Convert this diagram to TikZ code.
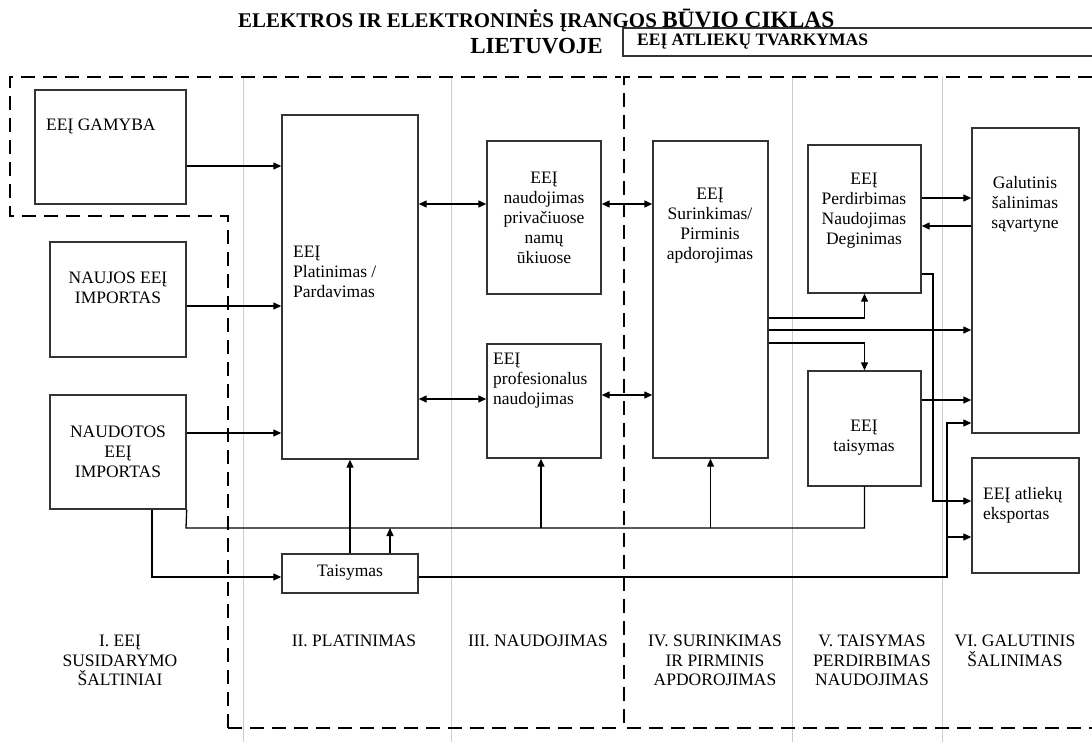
\documentclass[tikz,border=0pt]{standalone}
\usepackage{fontspec}
\setmainfont{Liberation Serif}
\usetikzlibrary{arrows.meta,fit}
\tikzset{
 box/.style={draw=black!80, line width=1.4pt, fill=white, inner sep=0pt},
 conn/.style={line width=1.3pt, draw=black},
 arr/.style={conn, -{Triangle[length=8pt,width=7pt]}},
 darr/.style={conn, {Triangle[length=8pt,width=7pt]}-{Triangle[length=8pt,width=7pt]}},
 txt/.style={inner sep=0pt, font=\fontsize{17.5}{20}\selectfont, align=center},
 ltxt/.style={txt, align=left},
 region/.style={line width=2.2pt, dash pattern=on 14pt off 8pt},
 sepline/.style={draw=gray!40, line width=0.6pt},
 phase/.style={fill=white, inner xsep=6pt, inner ysep=5pt, align=center, font=\fontsize{17.5}{19.5}\selectfont},
}
\newcommand{\mkbox}[5]{\coordinate (#1-a) at (#2,#3); \coordinate (#1-b) at (#4,#5); \node[box, fit=(#1-a)(#1-b)] (#1) {};}
\begin{document}
\begin{tikzpicture}[x=1pt,y=-1pt]
\useasboundingbox (0,0) rectangle (1092,742);
% separator lines
\foreach \xx in {243,451,792,942} {\draw[sepline] (\xx,77) -- (\xx,742);}
% dashed regions
\draw[region] (228,728) -- (228,216) -- (10,216) -- (10,77) -- (621,77);
\draw[region] (1092,77) -- (624,77) -- (624,728) -- (1092,728);
\draw[region] (228,728) -- (621,728);
% title
\node[anchor=base west, inner sep=0pt] (title) at (238,27) {\bfseries\fontsize{20.9}{24}\selectfont ELEKTROS IR ELEKTRONINĖS ĮRANGOS {\fontsize{23.4}{26}\selectfont BŪVIO CIKLAS}};
\node[anchor=base east, inner sep=0pt] (title2) at (603,53) {\bfseries\fontsize{23}{26}\selectfont LIETUVOJE};
\coordinate (hd-a) at (623,28); \coordinate (hd-b) at (1110,56);
\node[box, fit=(hd-a)(hd-b)] (hdr) {};
\node[anchor=base west, inner sep=0pt] (hdrtxt) at (637,45) {\bfseries\fontsize{17.5}{19}\selectfont EEĮ ATLIEKŲ TVARKYMAS};
% boxes
\mkbox{gam}{35}{90}{186}{204}
\mkbox{nau}{50}{242}{186}{357}
\mkbox{nad}{50}{395}{186}{509}
\mkbox{pla}{282}{115}{418}{459}
\mkbox{pri}{487}{141}{601}{294}
\mkbox{pro}{487}{344}{601}{458}
\mkbox{sur}{653}{141}{768}{458}
\mkbox{per}{808}{145}{921}{293}
\mkbox{gal}{972}{128}{1079}{433}
\mkbox{tai}{808}{371}{921}{486}
\mkbox{eks}{972}{458}{1079}{573}
\mkbox{tsm}{282}{554}{418}{593}
% box texts
\node[ltxt, anchor=west] (gamt) at (46,126) {EEĮ GAMYBA};
\node[txt] (naut) at (118,288) {NAUJOS EEĮ\\IMPORTAS};
\node[txt] (nadt) at (118,452) {NAUDOTOS\\EEĮ\\IMPORTAS};
\node[ltxt, anchor=west] (plat) at (293,272) {EEĮ\\Platinimas /\\Pardavimas};
\node[txt] (prit) at (544,218) {EEĮ\\naudojimas\\privačiuose\\namų\\ūkiuose};
\node[ltxt, anchor=west] (prot) at (493,381) {EEĮ\\profesionalus\\naudojimas};
\node[txt] (surt) at (710,226) {EEĮ\\Surinkimas/\\Pirminis\\apdorojimas};
\node[txt] (pert) at (864,211) {EEĮ\\Perdirbimas\\Naudojimas\\Deginimas};
\node[txt] (galt) at (1025,204) {Galutinis\\šalinimas\\sąvartyne};
\node[txt] (tait) at (864,438) {EEĮ\\taisymas};
\node[ltxt, anchor=west] (ekst) at (983,505) {EEĮ atliekų\\eksportas};
\node[txt] (tsmt) at (350,573) {Taisymas};
% connectors
\draw[arr] (gam.east |- 0,166) -- (pla.west |- 0,166);
\draw[arr] (nau.east |- 0,306) -- (pla.west |- 0,306);
\draw[arr] (nad.east |- 0,433) -- (pla.west |- 0,433);
\draw[darr] (pla.east |- 0,204) -- (pri.west |- 0,204);
\draw[darr] (pla.east |- 0,399) -- (pro.west |- 0,399);
\draw[darr] (pri.east |- 0,204) -- (sur.west |- 0,204);
\draw[darr] (pro.east |- 0,395) -- (sur.west |- 0,395);
\draw[arr] (sur.east |- 0,318) -| (per.south);
\draw[arr] (sur.east |- 0,330) -- (gal.west |- 0,330);
\draw[arr] (sur.east |- 0,343) -| (tai.north);
\draw[arr] (per.east |- 0,198) -- (gal.west |- 0,198);
\draw[arr] (gal.west |- 0,226) -- (per.east |- 0,226);
\coordinate (c1) at (933,274);
\coordinate (c2) at (933,501);
\draw[arr] (per.east |- c1) -- (c1) -- (c2) -- (eks.west |- c2);
\draw[arr] (tai.east |- 0,400) -- (gal.west |- 0,400);
\coordinate (c3) at (947,577);
\coordinate (c4) at (947,423);
\coordinate (c5) at (947,537);
\draw[arr] (tsm.east |- c3) -- (c3) -- (c4) -- (gal.west |- c4);
\draw[arr] (c5) -- (eks.west |- c5);
\coordinate (c6) at (152,577);
\draw[arr] (nad.south -| c6) -- (c6) -- (tsm.west |- c6);
\coordinate (c7) at (186,528);
\draw[conn] (nad.south east) -- (c7) -- (tai.south |- c7) -- (tai.south);
\draw[arr] (541,528) -- (pro.south -| 541,0);
\draw[arr] (sur.south |- c7) -- (sur.south);
\draw[arr] (tsm.north) -- (pla.south);
\draw[arr] (tsm.north -| 390,0) -- (390,528);
% phase labels
\node[phase, anchor=north] (ph1) at (120,630) {I. EEĮ\\SUSIDARYMO\\ŠALTINIAI};
\node[phase, anchor=north] (ph2) at (354,630) {II. PLATINIMAS};
\node[phase, anchor=north] (ph3) at (538,630) {III. NAUDOJIMAS};
\node[phase, anchor=north] (ph4) at (715,630) {IV. SURINKIMAS\\IR PIRMINIS\\APDOROJIMAS};
\node[phase, anchor=north] (ph5) at (872,630) {V. TAISYMAS\\PERDIRBIMAS\\NAUDOJIMAS};
\node[phase, anchor=north] (ph6) at (1015,630) {VI. GALUTINIS\\ŠALINIMAS};
\end{tikzpicture}
\end{document}
